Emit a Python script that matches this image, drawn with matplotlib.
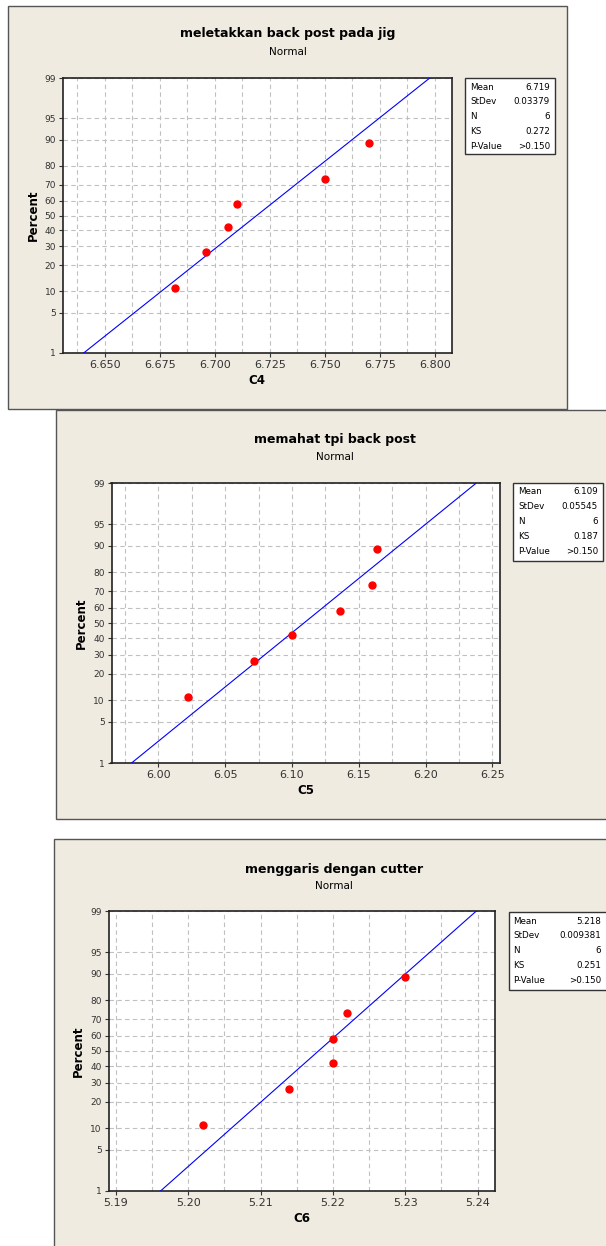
import math
import numpy as np
import matplotlib
matplotlib.use("Agg")
import matplotlib.pyplot as plt
from matplotlib.patches import Rectangle

# data
c4 = [6.682, 6.696, 6.706, 6.710, 6.750, 6.770]
c5 = [6.022, 6.072, 6.100, 6.136, 6.160, 6.164]
c6 = [5.202, 5.214, 5.220, 5.220, 5.222, 5.230]
pct = [10.9, 26.6, 42.2, 57.8, 73.4, 89.1]   # median-rank plotting positions

titles = ["meletakkan back post pada jig", "memahat tpi back post", "menggaris dengan cutter"]
xlabels = ["C4", "C5", "C6"]
stats = [
    [("Mean", "6.719"), ("StDev", "0.03379"), ("N", "6"), ("KS", "0.272"), ("P-Value", ">0.150")],
    [("Mean", "6.109"), ("StDev", "0.05545"), ("N", "6"), ("KS", "0.187"), ("P-Value", ">0.150")],
    [("Mean", "5.218"), ("StDev", "0.009381"), ("N", "6"), ("KS", "0.251"), ("P-Value", ">0.150")],
]
yticks = [1, 5, 10, 20, 30, 40, 50, 60, 70, 80, 90, 95, 99]

W, H = 606, 1246
BEIGE = "#F0EBE1"
GRID = "#C0C0C0"

# normal probability scale (Acklam approximation for the inverse cdf)
A = [-3.969683028665376e+01, 2.209460984245205e+02, -2.759285104469687e+02,
     1.383577518672690e+02, -3.066479806614716e+01, 2.506628277459239e+00]
B = [-5.447609879822406e+01, 1.615858368580409e+02, -1.556989798598866e+02,
     6.680131188771972e+01, -1.328068155288572e+01]
C = [-7.784894002430293e-03, -3.223964580411365e-01, -2.400758277161838e+00,
     -2.549671348283315e+00, 4.374664141464968e+00, 2.938163982698783e+00]
D = [7.784695709041462e-03, 3.224671290700398e-01, 2.445134137142996e+00,
     3.754408661907416e+00]


def _ppf(percent):
    p = min(max(percent / 100.0, 1e-12), 1 - 1e-12)
    if p < 0.02425:
        q = math.sqrt(-2 * math.log(p))
        return (((((C[0]*q+C[1])*q+C[2])*q+C[3])*q+C[4])*q+C[5]) / \
               ((((D[0]*q+D[1])*q+D[2])*q+D[3])*q+1)
    if p > 1 - 0.02425:
        q = math.sqrt(-2 * math.log(1 - p))
        return -(((((C[0]*q+C[1])*q+C[2])*q+C[3])*q+C[4])*q+C[5]) / \
                ((((D[0]*q+D[1])*q+D[2])*q+D[3])*q+1)
    q = p - 0.5
    r = q * q
    return (((((A[0]*r+A[1])*r+A[2])*r+A[3])*r+A[4])*r+A[5])*q / \
           (((((B[0]*r+B[1])*r+B[2])*r+B[3])*r+B[4])*r+1)


ppf = np.vectorize(_ppf, otypes=[float])
cdf = np.vectorize(lambda z: 100 * 0.5 * (1 + math.erf(z / math.sqrt(2))), otypes=[float])


def frac(l, t, r, b):
    return [l / W, 1 - b / H, (r - l) / W, (b - t) / H]


fig = plt.figure(figsize=(W / 100, H / 100), dpi=100)
fig.patch.set_facecolor("white")

# panel layout in pixels
panels = [
    dict(box=(8, 6, 567, 409), plot=(63, 78, 451.5, 353), xlim=(6.631, 6.8075),
         major=(6.650, 6.800, 0.025), minor=(6.6375, 6.800, 0.0125), fmt="%.3f",
         title_y=34, sub_y=52, cx=288, ylab_x=33, leg=(465, 78, 555, 154)),
    dict(box=(56, 410, 620, 819), plot=(111.5, 483, 500, 763), xlim=(5.965, 6.2557),
         major=(6.00, 6.25, 0.05), minor=(5.975, 6.25, 0.025), fmt="%.2f",
         title_y=439, sub_y=457, cx=335, ylab_x=81, leg=(513, 483, 603, 561)),
    dict(box=(54, 839, 620, 1260), plot=(108.6, 911, 495, 1191), xlim=(5.189, 5.2424),
         major=(5.19, 5.24, 0.01), minor=(5.19, 5.24, 0.005), fmt="%.2f",
         title_y=869, sub_y=886, cx=334, ylab_x=78, leg=(508.6, 912, 615, 990)),
]
datasets = [c4, c5, c6]

for i, cfg in enumerate(panels):
    l, t, r, b = cfg["box"]
    fig.patches.append(Rectangle((l / W, 1 - b / H), (r - l) / W, (b - t) / H,
                                 transform=fig.transFigure, facecolor=BEIGE,
                                 edgecolor="#555555", lw=1.0, zorder=-1))

    ax = fig.add_axes(frac(*cfg["plot"]))
    ax.set_facecolor("white")
    ax.set_yscale("function", functions=(ppf, cdf))
    ax.set_ylim(1, 99)
    ax.set_xlim(*cfg["xlim"])
    lo, hi, st = cfg["major"]
    ax.set_xticks(np.arange(lo, hi + st / 2, st))
    ax.set_xticklabels([cfg["fmt"] % v for v in np.arange(lo, hi + st / 2, st)], fontsize=8)
    lo, hi, st = cfg["minor"]
    ax.set_xticks(np.arange(lo, hi + st / 2, st), minor=True)
    ax.set_yticks(yticks)
    ax.set_yticklabels([str(v) for v in yticks], fontsize=6.5)
    ax.yaxis.set_minor_locator(matplotlib.ticker.NullLocator())
    ax.tick_params(axis="x", which="minor", length=0)
    ax.tick_params(axis="both", which="major", length=3, width=0.8, colors="#333333", pad=2)
    ax.grid(True, axis="x", which="both", color=GRID, ls=(0, (4, 3)), lw=0.8)
    ax.grid(True, axis="y", which="major", color=GRID, ls=(0, (4, 3)), lw=0.8)
    for sp in ax.spines.values():
        sp.set_color("#222222")
        sp.set_linewidth(1.2)

    data = datasets[i]
    mean = np.mean(data)
    sd = np.std(data, ddof=1)
    ends = np.array([1, 99])
    ax.plot(mean + sd * ppf(ends), ends, color="blue", lw=0.8, zorder=3)
    ax.plot(data, pct, "o", color="red", ms=5, zorder=4, clip_on=False)

    ax.set_xlabel(xlabels[i], fontsize=8.5, fontweight="bold", labelpad=3)
    fig.text(cfg["ylab_x"] / W, 1 - ((cfg["plot"][1] + cfg["plot"][3]) / 2) / H, "Percent",
             rotation=90, ha="center", va="center", fontsize=8.5, fontweight="bold")
    fig.text(cfg["cx"] / W, 1 - cfg["title_y"] / H, titles[i], ha="center", va="center",
             fontsize=9, fontweight="bold")
    fig.text(cfg["cx"] / W, 1 - cfg["sub_y"] / H, "Normal", ha="center", va="center",
             fontsize=7.5)

    # statistics box
    ll, lt, lr, lb = cfg["leg"]
    fig.patches.append(Rectangle((ll / W, 1 - lb / H), (lr - ll) / W, (lb - lt) / H,
                                 transform=fig.transFigure, facecolor="white",
                                 edgecolor="#333333", lw=1.0, zorder=1))
    rows = stats[i]
    for k, (name, val) in enumerate(rows):
        y = lt + 9 + k * 14.8
        fig.text((ll + 5) / W, 1 - y / H, name, ha="left", va="center", fontsize=6.3)
        fig.text((min(lr, 606) - 5) / W, 1 - y / H, val, ha="right", va="center", fontsize=6.3)

fig.savefig("out.png", dpi=100, facecolor=fig.get_facecolor())
